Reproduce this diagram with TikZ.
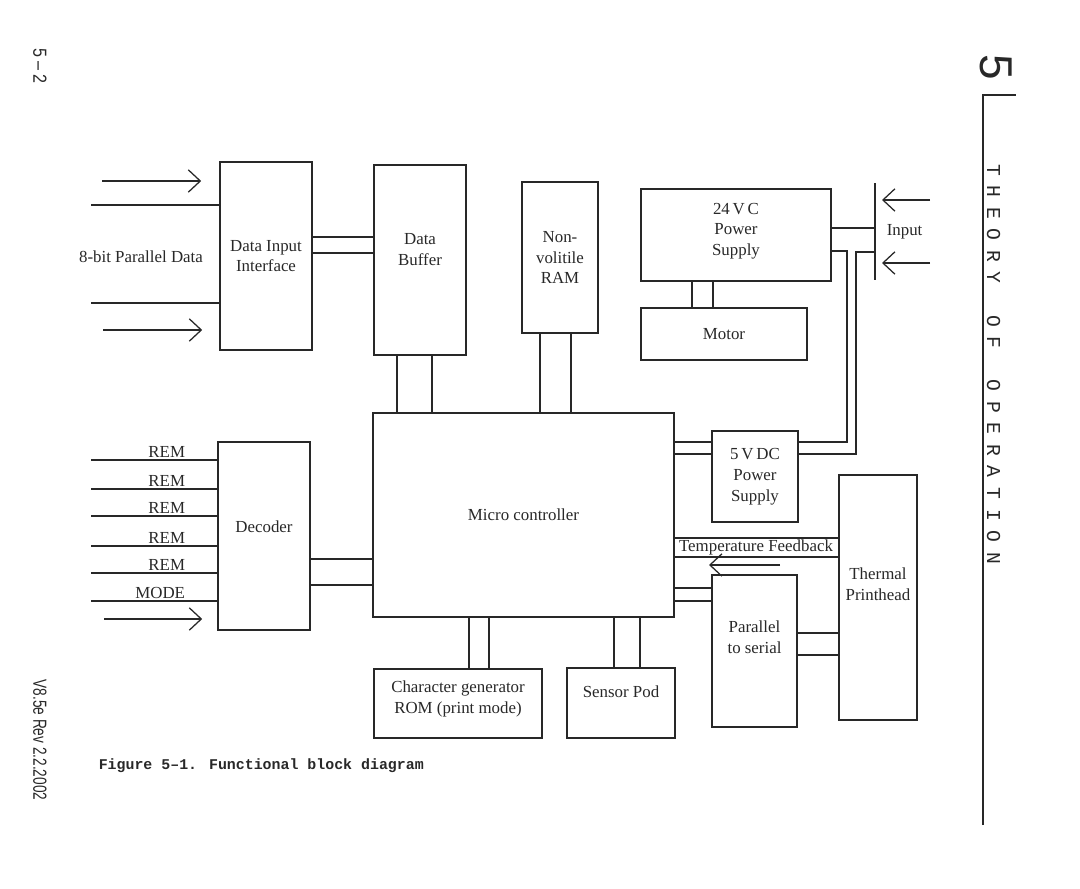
\documentclass[tikz,border=0pt]{standalone}
\usepackage{fontspec}
\setmainfont{Liberation Serif}
\newfontfamily\pagemono{Liberation Mono}
\newfontfamily\pagesans{Liberation Sans}
\usetikzlibrary{arrows.meta}
\definecolor{ink}{RGB}{40,40,40}
% text set a little above the middle of its box
\newcommand\upby[2]{\raisebox{#1}[\height][\depth]{\begin{tabular}{@{}c@{}}#2\end{tabular}}}

\begin{document}
\begin{tikzpicture}[x=0.025cm, y=-0.025cm, ink, line width=1.1pt,
	font=\fontsize{12}{14.8}\selectfont,
	>={Straight Barb[length=3mm,width=5.6mm]},
	blk/.style={draw, inner sep=1pt, align=center},
	sig/.style={line width=0.9pt},
	rem/.style={pos=0.762, anchor=south east, inner sep=1pt},
	side/.style={rotate=-90, inner sep=0pt}]
	\useasboundingbox (0,0) rectangle (1080,889);

	% blocks
	\node (dii) [blk, minimum width=2.3cm, minimum height=4.7cm] at (266,256) {Data Input\\Interface};
	\node (buf) [blk, minimum width=2.3cm, minimum height=4.75cm] at (420,260) {\upby{6.4pt}{Data\\Buffer}};
	\node (ram) [blk, minimum width=1.9cm, minimum height=3.775cm] at (560,257.5) {Non-\\volitile\\RAM};
	\node (ps24) [blk, minimum width=4.75cm, minimum height=2.3cm] at (736,235) {\upby{3pt}{24\,V\,C\\Power\\Supply}};
	\node (motor) [blk, minimum width=4.15cm, minimum height=1.3cm] at (724,334) {Motor};
	\node (mc) [blk, minimum width=7.525cm, minimum height=5.1cm] at (523.5,515) {Micro controller};
	\node (ps5) [blk, minimum width=2.15cm, minimum height=2.275cm] at (755,476.5) {5\,V\,DC\\Power\\Supply};
	\node (dec) [blk, minimum width=2.3cm, minimum height=4.7cm] at (264,536) {\upby{5.7pt}{Decoder}};
	\node (tph) [blk, minimum width=1.95cm, minimum height=6.125cm] at (878,597.5) {\upby{8.5pt}{Thermal\\Printhead}};
	\node (p2s) [blk, minimum width=2.125cm, minimum height=3.8cm] at (754.5,651) {\upby{8.5pt}{Parallel\\to serial}};
	\node (crom) [blk, minimum width=4.2cm, minimum height=1.725cm] at (458,703.5) {\upby{3.5pt}{Character generator\\ROM (print mode)}};
	\node (pod) [blk, minimum width=2.7cm, minimum height=1.75cm] at (621,703) {\upby{7pt}{Sensor Pod}};
	\node (inbar) [inner sep=0pt, minimum width=0pt, minimum height=2.375cm] at (875,231.5) {};

	% parallel data in
	\node (pdata) at (141,257) {8-bit Parallel Data};
	\draw[sig,->] ([shift={(-117,-75)}]dii.west) -- ++(99,0);
	\draw ([shift={(-128,-51)}]dii.west) -- ([shift={(0,-51)}]dii.west);
	\draw ([shift={(-128,47)}]dii.west) -- ([shift={(0,47)}]dii.west);
	\draw[sig,->] ([shift={(-116,74)}]dii.west) -- ++(99,0);

	% decoder inputs
	\foreach \dy/\lab in {-76/REM,-47/REM,-20/REM,10/REM,37/REM,65/MODE}
		\draw ([shift={(-126,\dy)}]dec.west) -- node[rem] {\lab} ([shift={(0,\dy)}]dec.west);
	\draw[sig,->] ([shift={(-113,83)}]dec.west) -- ++(98,0);

	% buses
	\foreach \dy in {-19,-3}
		\draw ([shift={(0,\dy)}]dii.east) -- ([shift={(0,\dy)}]dii.east -| buf.west);
	\foreach \dx in {-23,12}
		\draw ([shift={(\dx,0)}]buf.south) -- ([shift={(\dx,0)}]buf.south |- mc.north);
	\foreach \dx in {-20,11}
		\draw ([shift={(\dx,0)}]ram.south) -- ([shift={(\dx,0)}]ram.south |- mc.north);
	\foreach \dx in {-44,-23}
		\draw ([shift={(\dx,0)}]ps24.south) -- ([shift={(\dx,0)}]ps24.south |- motor.north);
	\foreach \dx in {-54.5,-34.5}
		\draw ([shift={(\dx,0)}]mc.south) -- ([shift={(\dx,0)}]mc.south |- crom.north);
	\foreach \dx in {90.5,116.5}
		\draw ([shift={(\dx,0)}]mc.south) -- ([shift={(\dx,0)}]mc.south |- pod.north);
	\foreach \dy in {23,49}
		\draw ([shift={(0,\dy)}]dec.east) -- ([shift={(0,\dy)}]dec.east -| mc.west);
	\foreach \dy in {-73,-61}
		\draw ([shift={(0,\dy)}]mc.east) -- ([shift={(0,\dy)}]mc.east -| ps5.west);
	\foreach \dy in {23,42}
		\draw ([shift={(0,\dy)}]mc.east) -- ([shift={(0,\dy)}]mc.east -| tph.west);
	\foreach \dy in {73,86}
		\draw ([shift={(0,\dy)}]mc.east) -- ([shift={(0,\dy)}]mc.east -| p2s.west);
	\foreach \dy in {-18,4}
		\draw ([shift={(0,\dy)}]p2s.east) -- ([shift={(0,\dy)}]p2s.east -| tph.west);

	% temperature feedback
	\node (tf) [inner sep=1pt] at (756,547) {Temperature Feedback};
	\draw[sig,->] ([shift={(24,18)}]tf.center) -- ++(-71,0);

	% power input
	\draw (inbar.north) -- (inbar.south);
	\node (inlab) [anchor=west, inner sep=0pt] at (886,232) {Input};
	\draw[sig,->] ([shift={(55,-31.5)}]inbar.center) -- ++(-48,0);
	\draw[sig,->] ([shift={(55,31.5)}]inbar.center) -- ++(-48,0);
	\draw ([shift={(0,-7)}]ps24.east) -- ([shift={(0,-7)}]ps24.east -| inbar.west);
	\draw ([shift={(0,16)}]ps24.east) -- ++(15,0) |- ([shift={(0,-34.5)}]ps5.east);
	\draw ([shift={(0,20.5)}]inbar.west) -- ++(-18,0) |- ([shift={(0,-22.5)}]ps5.east);

	% page furniture
	\draw (983,825) -- (983,95) -- (1016,95);
	\node (chap) [side, font=\pagesans\fontsize{32.7}{33}\selectfont] at (996.5,67) {5};
	\foreach \ch [count=\i from 0] in {T,H,E,O,R,Y,{},O,F,{},O,P,E,R,A,T,I,O,N}
		\node (th\i) [side, font=\pagemono\fontsize{14}{14}\selectfont] at (993.5,{170+21.56*\i}) {\ch};
	\node (pgno) [side, font=\pagesans\fontsize{13.5}{14}\selectfont] at (40,66) {\scalebox{0.85}[1]{5 – 2}};
	\node (rev) [side, font=\pagesans\fontsize{13.5}{14}\selectfont] at (40,740) {\scalebox{0.72}[1]{V8.5e Rev 2.2.2002}};
	\node (cap) [anchor=west, inner sep=0pt, font=\pagemono\bfseries\fontsize{10.6}{12}\selectfont] at (98,766) {Figure 5–1. Functional block diagram};
\end{tikzpicture}
\end{document}
